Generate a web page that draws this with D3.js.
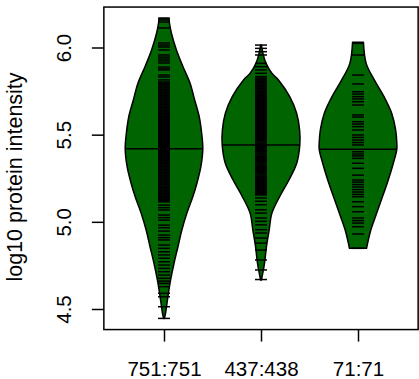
<!DOCTYPE html>
<html><head><meta charset="utf-8">
<script src="https://cdn.jsdelivr.net/npm/d3@7"></script>
<style>
body{margin:0;background:#fff}
svg{display:block}
text{font-family:"Liberation Sans",Arial,Helvetica,sans-serif;fill:#000}
</style>
</head><body>
<svg id="chart" width="419" height="379"></svg>
<script>
// ---------- data ----------
const categories = ["751:751", "437:438", "71:71"];
const yTicks = [4.5, 5.0, 5.5, 6.0];
const yTickLabels = ["4.5", "5.0", "5.5", "6.0"];
const yTitle = "log10 protein intensity";
const medians = [5.419, 5.441, 5.416];

// density outline: [value, relative half-width]
const densityA = [[6.168,0.12],[6.083,0.19],[5.986,0.32],[5.890,0.49],[5.796,0.67],[5.699,0.79],[5.601,0.91],[5.509,0.97],[5.419,1.0],[5.316,0.95],[5.223,0.85],[5.142,0.74],[5.050,0.59],[4.953,0.46],[4.857,0.36],[4.764,0.26],[4.667,0.17],[4.570,0.10],[4.477,0.04],[4.446,0.01]];
const densityB = [[6.014,0.01],[5.957,0.06],[5.909,0.13],[5.852,0.28],[5.814,0.45],[5.718,0.74],[5.622,0.92],[5.527,0.995],[5.441,1.0],[5.336,0.92],[5.240,0.72],[5.144,0.48],[5.049,0.28],[4.953,0.21],[4.857,0.14],[4.762,0.09],[4.666,0.01]];
const densityC = [[6.030,0.14],[5.909,0.21],[5.814,0.42],[5.718,0.67],[5.622,0.87],[5.527,0.97],[5.452,1.0],[5.416,1.0],[5.336,0.91],[5.240,0.78],[5.144,0.63],[5.049,0.48],[4.953,0.33],[4.848,0.22]];

// observed values (rug)
const rugA = [6.168,6.158,6.146,6.112,6.026,6.014,6.003,5.986,5.957,5.945,5.934,5.923,5.911,5.888,5.877,5.871,5.842,5.831,5.814,
5.802,5.797,5.791,5.786,5.779,5.773,5.768,5.761,5.756,5.750,5.744,5.739,5.733,5.727,5.722,5.716,5.710,5.705,5.699,5.693,5.688,5.682,5.676,5.671,5.665,5.659,5.654,5.648,5.642,5.637,5.631,5.625,5.620,5.614,5.608,5.603,5.597,5.591,5.586,5.580,5.574,5.569,5.563,5.557,5.552,5.546,5.540,5.535,5.529,5.523,5.518,5.512,5.506,5.501,5.495,5.489,5.484,5.478,5.472,5.467,5.461,5.455,5.450,5.444,5.438,5.433,5.427,5.421,5.416,5.410,5.404,5.399,5.393,5.387,5.382,5.376,5.370,5.365,5.359,5.353,5.348,5.342,5.336,5.331,5.325,5.319,5.314,5.308,5.302,5.297,5.291,5.285,5.280,5.274,5.268,5.263,5.257,5.251,5.246,5.240,5.234,5.229,5.223,5.217,5.212,5.206,5.200,5.195,5.189,5.183,5.178,5.172,5.166,5.161,5.155,5.149,5.144,5.138,5.132,5.127,5.121,5.115,
5.096,5.081,5.068,5.039,5.024,5.010,4.981,4.966,4.947,4.924,4.909,4.896,4.867,4.848,4.828,4.810,4.791,4.771,4.752,4.733,4.714,4.695,4.676,4.660,4.647,4.628,4.590,4.570,4.513,4.446];
const rugB = [6.014,5.995,5.976,5.957,5.909,5.890,5.871,5.852,5.833,
5.825,5.819,5.814,5.808,5.802,5.797,5.791,5.785,5.780,5.774,5.768,5.763,5.757,5.751,5.746,5.740,5.734,5.729,5.723,5.717,5.712,5.706,5.700,5.695,5.689,5.683,5.678,5.672,5.666,5.661,5.655,5.649,5.644,5.638,5.632,5.627,5.621,5.615,5.610,5.604,5.598,5.593,5.587,5.581,5.576,5.570,5.564,5.559,5.553,5.547,5.542,5.536,5.530,5.525,5.519,5.513,5.508,5.502,5.496,5.490,5.483,5.477,5.471,5.465,5.458,5.452,5.446,5.440,5.433,5.427,5.421,5.414,5.408,5.402,5.395,5.389,5.383,5.376,5.370,5.364,5.357,5.351,5.345,5.338,5.332,5.326,5.319,5.313,5.307,5.300,5.294,5.288,5.281,5.275,5.269,5.262,5.256,5.250,5.244,5.238,5.232,5.226,5.221,5.215,5.209,5.204,5.198,5.192,5.187,5.181,5.175,5.170,5.164,5.158,5.154,
5.137,5.118,5.098,5.069,5.050,5.022,5.003,4.983,4.955,4.936,4.907,4.878,4.838,4.781,4.724,4.669];
const rugC = [6.024,5.957,5.842,5.791,5.746,5.733,5.718,5.705,5.689,5.670,5.613,5.601,5.574,5.561,5.546,5.527,5.498,5.484,5.469,5.455,5.441,5.402,5.389,5.378,5.364,5.336,5.307,5.268,5.240,5.228,5.214,5.200,5.185,5.171,5.157,5.144,5.115,5.087,5.058,5.022,5.007,4.993,4.972,4.930,4.848];

const densities = [densityA, densityB, densityC];
const rugs = [rugA, rugB, rugC];

// ---------- layout ----------
const svg = d3.select("#chart");
const x = d3.scaleLinear().domain([1, 3]).range([164, 358]);
const y = d3.scaleLinear().domain([4.5, 6.0]).range([309, 47.5]);
const xDom = [0.38, 3.62], yDom = [4.382, 6.232];
const maxHalf = 0.4;     // in x units
const rugHalf = 0.062;   // in x units

const fillCol = "#006400";

// beans
densities.forEach((dens, i) => {
  const cx = i + 1;
  const area = d3.area()
    .y(d => y(d[0]))
    .x0(d => x(cx - maxHalf * d[1]))
    .x1(d => x(cx + maxHalf * d[1]))
    .curve(d3.curveCatmullRom.alpha(0.5));
  svg.append("path")
    .attr("d", area(dens))
    .attr("fill", fillCol)
    .attr("stroke", "#000")
    .attr("stroke-width", 1.5)
    .attr("stroke-linejoin", "round");

  svg.append("g").selectAll("line").data(rugs[i]).join("line")
    .attr("x1", x(cx - rugHalf)).attr("x2", x(cx + rugHalf))
    .attr("y1", d => y(d)).attr("y2", d => y(d))
    .attr("stroke", "#000").attr("stroke-width", 1.5);

  // median line with width of bean at median
  const m = medians[i];
  let hw = 1;
  for (let k = 0; k < dens.length - 1; k++) {
    const a = dens[k], b = dens[k + 1];
    if (m <= a[0] && m >= b[0]) { hw = a[1] + (b[1] - a[1]) * (a[0] - m) / (a[0] - b[0]); break; }
  }
  svg.append("line")
    .attr("x1", x(cx - maxHalf * hw)).attr("x2", x(cx + maxHalf * hw))
    .attr("y1", y(m)).attr("y2", y(m))
    .attr("stroke", "#000").attr("stroke-width", 1.5);
});

// frame
svg.append("rect")
  .attr("x", x(xDom[0])).attr("y", y(yDom[1]))
  .attr("width", x(xDom[1]) - x(xDom[0])).attr("height", y(yDom[0]) - y(yDom[1]))
  .attr("fill", "none").attr("stroke", "#000").attr("stroke-width", 1.5);

// y axis
const yAxis = svg.append("g").attr("transform", `translate(${x(xDom[0])},0)`)
  .call(d3.axisLeft(y).tickValues(yTicks).tickSize(12).tickFormat((d, i) => yTickLabels[i]));
yAxis.select(".domain").remove();
yAxis.selectAll(".tick line").attr("stroke", "#000").attr("stroke-width", 1.5);
yAxis.selectAll(".tick text")
  .attr("x", null).attr("dy", null)
  .attr("transform", "translate(-32.5,0) rotate(-90)")
  .attr("text-anchor", "middle")
  .attr("font-size", 20.5)
  .attr("font-family", "Liberation Sans, Arial, sans-serif");

// x axis
const xAxis = svg.append("g").attr("transform", `translate(0,${y(yDom[0])})`)
  .call(d3.axisBottom(x).tickValues([1, 2, 3]).tickSize(12).tickFormat((d, i) => categories[i]));
xAxis.select(".domain").remove();
xAxis.selectAll(".tick line").attr("stroke", "#000").attr("stroke-width", 1.5);
xAxis.selectAll(".tick text")
  .attr("y", 46.5).attr("dy", null)
  .attr("font-size", 20.5)
  .attr("font-family", "Liberation Sans, Arial, sans-serif");

// y title
svg.append("text")
  .attr("transform", `translate(21.5,177) rotate(-90)`)
  .attr("text-anchor", "middle")
  .attr("font-size", 21.5)
  .text(yTitle);
</script>
</body></html>
